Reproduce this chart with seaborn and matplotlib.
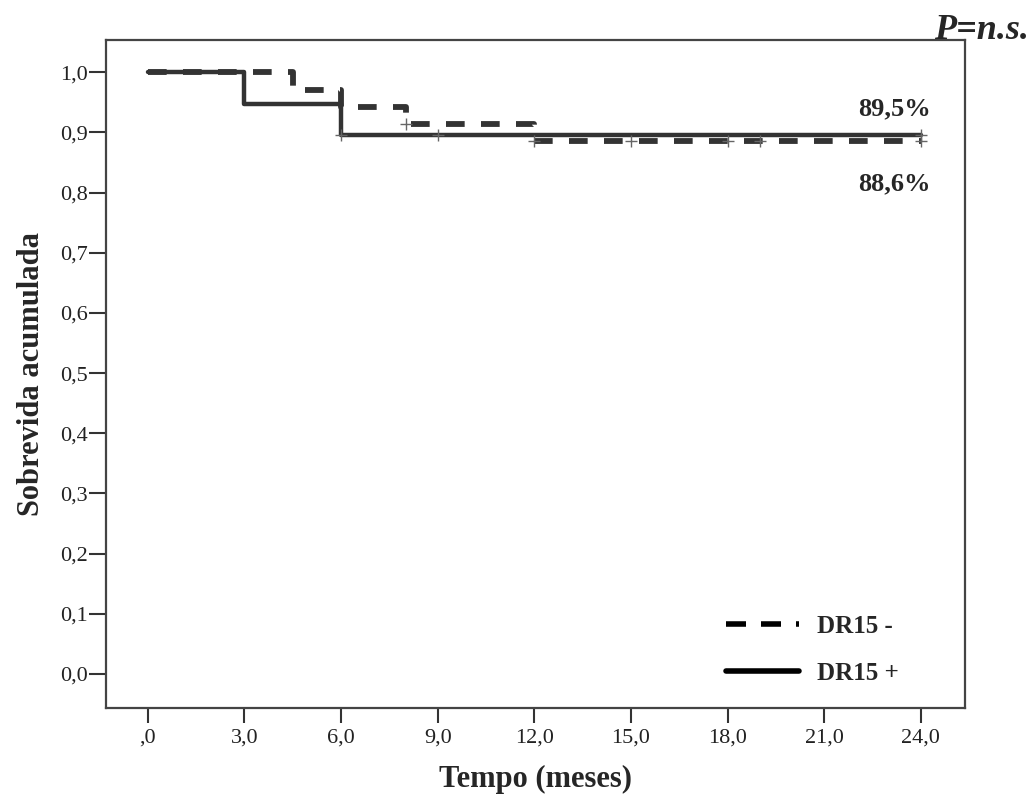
import pandas as pd
import seaborn as sns
import matplotlib.pyplot as plt
from matplotlib.lines import Line2D
from matplotlib.ticker import FixedLocator, FixedFormatter

# --------------------------------------------------------------
# Data
# --------------------------------------------------------------
tempo_pos = [0, 3, 6, 24]
sobrev_pos = [1.0, 0.947, 0.895, 0.895]
censura_pos_t = [6, 9, 24]
censura_pos_s = [0.895, 0.895, 0.895]

tempo_neg = [0, 4.5, 6, 8, 12, 24]
sobrev_neg = [1.0, 0.971, 0.943, 0.914, 0.886, 0.886]
censura_neg_t = [8, 12, 15, 18, 19, 24]
censura_neg_s = [0.914, 0.886, 0.886, 0.886, 0.886, 0.886]

xticks = [0, 3, 6, 9, 12, 15, 18, 21, 24]
xtick_labels = [",0", "3,0", "6,0", "9,0", "12,0", "15,0", "18,0", "21,0", "24,0"]
yticks = [0.0, 0.1, 0.2, 0.3, 0.4, 0.5, 0.6, 0.7, 0.8, 0.9, 1.0]
ytick_labels = ["0,0", "0,1", "0,2", "0,3", "0,4", "0,5", "0,6", "0,7", "0,8", "0,9", "1,0"]

df_pos = pd.DataFrame({"tempo": tempo_pos, "sobrev": sobrev_pos})
df_neg = pd.DataFrame({"tempo": tempo_neg, "sobrev": sobrev_neg})
cens_pos = pd.DataFrame({"tempo": censura_pos_t, "sobrev": censura_pos_s})
cens_neg = pd.DataFrame({"tempo": censura_neg_t, "sobrev": censura_neg_s})

# --------------------------------------------------------------
# Plot
# --------------------------------------------------------------
sns.set_style("white")
plt.rcParams["font.family"] = ["Liberation Serif", "DejaVu Serif"]

fig = plt.figure(figsize=(10.31, 8.06), dpi=100)
ax = fig.add_axes([106 / 1031, 1 - 708 / 806, (965 - 106) / 1031, (708 - 40) / 806])

line_col = "#333333"
sns.lineplot(data=df_neg, x="tempo", y="sobrev", ax=ax, estimator=None, sort=False,
             drawstyle="steps-post", color=line_col, linewidth=4.2,
             dashes=False, linestyle=(0, (3.2, 2.8)))
sns.lineplot(data=df_pos, x="tempo", y="sobrev", ax=ax, estimator=None, sort=False,
             drawstyle="steps-post", color=line_col, linewidth=3.2)
sns.scatterplot(data=cens_neg, x="tempo", y="sobrev", ax=ax, marker="+",
                s=70, color="#666666", linewidth=1.0, zorder=5)
sns.scatterplot(data=cens_pos, x="tempo", y="sobrev", ax=ax, marker="+",
                s=70, color="#666666", linewidth=1.0, zorder=5)

ax.set_xlim(-1.3, 25.37)
ax.set_ylim(-0.0565, 1.0537)
ax.xaxis.set_major_locator(FixedLocator(xticks))
ax.xaxis.set_major_formatter(FixedFormatter(xtick_labels))
ax.yaxis.set_major_locator(FixedLocator(yticks))
ax.yaxis.set_major_formatter(FixedFormatter(ytick_labels))
ax.tick_params(axis="both", bottom=True, left=True, direction="out", length=11,
               width=1.5, color="#333333", labelsize=16, labelcolor="#222222", pad=4)
ax.tick_params(axis="y", length=12, pad=1)

for sp in ax.spines.values():
    sp.set_visible(True)
    sp.set_color("#444444")
    sp.set_linewidth(1.6)

ax.set_xlabel("Tempo (meses)", fontsize=22, fontweight="bold", labelpad=12)
ax.set_ylabel("Sobrevida acumulada", fontsize=22, fontweight="bold", labelpad=10)

ax.text(24.3, 0.94, "89,5%", fontsize=19, fontweight="bold", ha="right", va="center")
ax.text(24.3, 0.815, "88,6%", fontsize=19, fontweight="bold", ha="right", va="center")
fig.text(0.998, 0.962, "P=n.s.", fontsize=26, fontweight="bold", fontstyle="italic",
         ha="right", va="center")

handles = [
    Line2D([], [], color="black", linewidth=4, linestyle=(0, (3.6, 2.7, 3.6, 2.7, 0.55, 10))),
    Line2D([], [], color="black", linewidth=4),
]
leg = ax.legend(handles, ["DR15 -", "DR15 +"], loc="lower left",
                bbox_to_anchor=(0.722, 0.035), borderaxespad=0, borderpad=0,
                frameon=False, handlelength=2.9, handletextpad=0.75,
                labelspacing=0.95, prop={"size": 18, "weight": "bold"})

fig.savefig("out.png", dpi=100, facecolor="white")
